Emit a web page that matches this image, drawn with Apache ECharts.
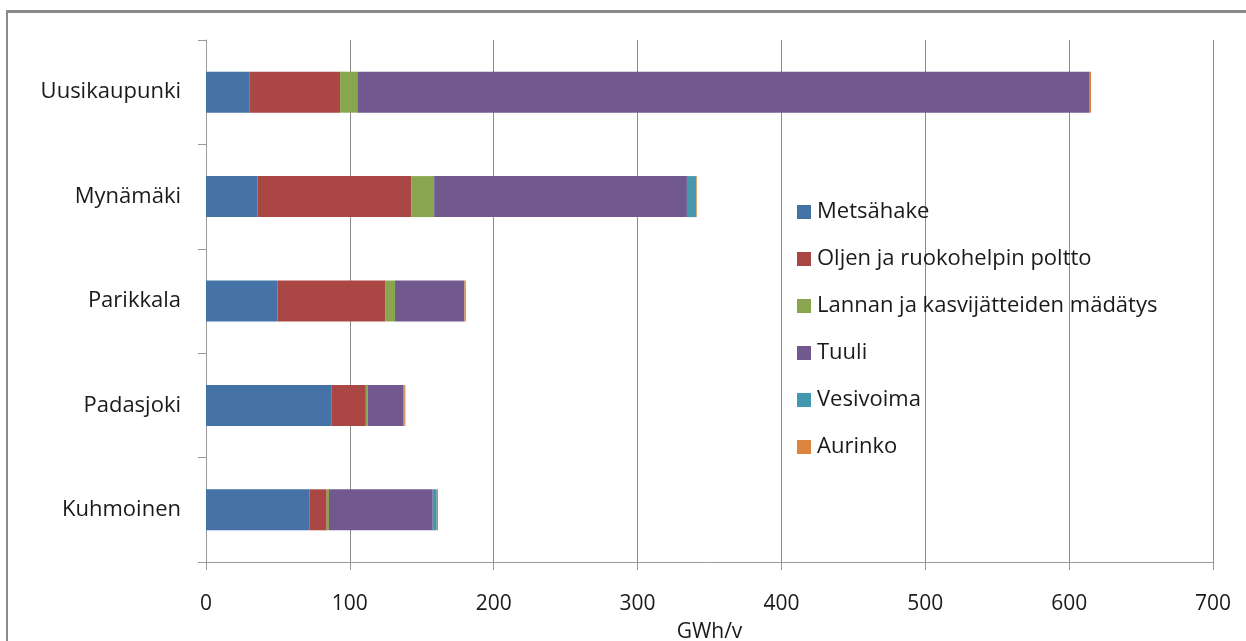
<!DOCTYPE html>
<html>
<head>
<meta charset="utf-8">
<script src="https://cdn.jsdelivr.net/npm/echarts@6/dist/echarts.min.js"></script>
<style>
  html, body { margin: 0; padding: 0; background: #ffffff; }
  #chart { width: 1246px; height: 641px; }
</style>
</head>
<body>
<div id="chart"></div>
<script>
// Renewable energy production potential by municipality (GWh/v)
const municipalities = ['Uusikaupunki', 'Mynämäki', 'Parikkala', 'Padasjoki', 'Kuhmoinen'];

const metsahake = [30.1, 35.9, 49.6, 87.4, 72.1];
const oljenRuokohelpi = [63.1, 106.7, 74.9, 23.7, 11.8];
const lannanMadatys = [12.0, 16.0, 6.9, 1.4, 1.6];
const tuuli = [509.1, 175.7, 48.2, 24.8, 72.1];
const vesivoima = [0.0, 6.4, 0.0, 0.5, 2.8];
const aurinko = [0.9, 0.5, 1.0, 0.8, 0.9];

const seriesNames = [
  'Metsähake',
  'Oljen ja ruokohelpin poltto',
  'Lannan ja kasvijätteiden mädätys',
  'Tuuli',
  'Vesivoima',
  'Aurinko'
];
const seriesValues = [metsahake, oljenRuokohelpi, lannanMadatys, tuuli, vesivoima, aurinko];
const seriesColors = ['#4572A7', '#AA4643', '#89A54E', '#71588F', '#4198AF', '#DB843D'];

const xTicks = { min: 0, max: 700, interval: 100 };

const fontFamily = '"Open Sans", "Liberation Sans", sans-serif';

const chart = echarts.init(document.getElementById('chart'), null, { renderer: 'canvas' });

chart.setOption({
  backgroundColor: '#ffffff',
  animation: false,
  color: seriesColors,
  grid: { left: 206, right: 33, top: 40, bottom: 79, containLabel: false, outerBoundsMode: 'none' },
  legend: {
    orient: 'vertical',
    left: 797,
    top: 200,
    padding: 0,
    itemWidth: 14,
    itemHeight: 14,
    itemGap: 23,
    icon: 'rect',
    textStyle: { fontFamily: fontFamily, fontSize: 22, color: '#1a1a1a', lineHeight: 24, padding: [0, 0, 0, 1] },
    data: seriesNames
  },
  xAxis: {
    type: 'value',
    min: xTicks.min,
    max: xTicks.max,
    interval: xTicks.interval,
    name: 'GWh/v',
    nameLocation: 'middle',
    nameGap: 60,
    nameTextStyle: { fontFamily: fontFamily, fontSize: 21, color: '#1a1a1a' },
    axisLine: { show: true, lineStyle: { color: '#9a9a9a', width: 1 } },
    axisTick: { show: true, length: 8, lineStyle: { color: '#9a9a9a' } },
    axisLabel: { margin: 32, fontFamily: fontFamily, fontSize: 21, color: '#1a1a1a' },
    splitLine: { show: true, lineStyle: { color: '#8a8a8a', width: 1 } }
  },
  yAxis: {
    type: 'category',
    inverse: true,
    data: municipalities,
    axisLine: { show: true, lineStyle: { color: '#9a9a9a', width: 1 } },
    axisTick: { show: true, length: 8, lineStyle: { color: '#9a9a9a' } },
    axisLabel: { margin: 25, fontFamily: fontFamily, fontSize: 22, color: '#1a1a1a' },
    splitLine: { show: false }
  },
  series: seriesNames.map((name, i) => ({
    name: name,
    type: 'bar',
    stack: 'total',
    barWidth: 41,
    data: seriesValues[i],
    itemStyle: { color: seriesColors[i] },
    emphasis: { disabled: true }
  })),
  graphic: [
    {
      type: 'line',
      shape: { x1: 6, y1: 11.5, x2: 1246, y2: 11.5 },
      style: { stroke: '#8a8a8a', lineWidth: 3 },
      silent: true
    },
    {
      type: 'line',
      shape: { x1: 7, y1: 10, x2: 7, y2: 641 },
      style: { stroke: '#8a8a8a', lineWidth: 2 },
      silent: true
    }
  ]
});
</script>
</body>
</html>
